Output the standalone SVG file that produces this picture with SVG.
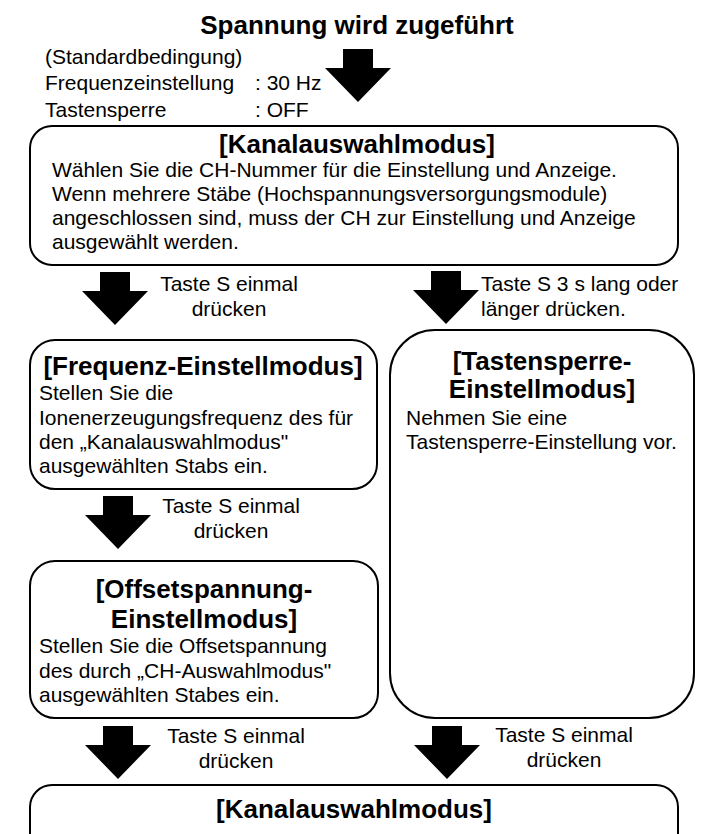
<svg xmlns="http://www.w3.org/2000/svg" xmlns:xlink="http://www.w3.org/1999/xlink" width="713" height="834" viewBox="0 0 713 834">
<style>
text{font-family:"Liberation Sans",Arial,sans-serif;fill:#000}
.b{font-size:21px}
.h{font-size:26px;font-weight:bold}
.c{text-anchor:middle}
.box{fill:#fff;stroke:#000;stroke-width:2}
.arr{fill:#000}
</style>
<defs>
<path id="arrow" d="M-15,0 H15 V19 H33 L0,53 L-33,19 H-15 Z"/>
</defs>
<rect width="713" height="834" fill="#fff"/>
<g id="title">
<text class="h c" x="357" y="34">Spannung wird zugeführt</text>
</g>
<g id="defaults">
<text class="b" x="45" y="64">(Standardbedingung)</text>
<text class="b" x="45" y="90">Frequenzeinstellung</text>
<text class="b" x="255" y="90">: 30 Hz</text>
<text class="b" x="45" y="117">Tastensperre</text>
<text class="b" x="255" y="117">: OFF</text>
</g>
<g id="connectors">
<use xlink:href="#arrow" class="arr" x="358" y="49"/>
<use xlink:href="#arrow" class="arr" x="115" y="272"/>
<use xlink:href="#arrow" class="arr" x="446" y="271"/>
<use xlink:href="#arrow" class="arr" x="118" y="496"/>
<use xlink:href="#arrow" class="arr" x="118" y="726"/>
<use xlink:href="#arrow" class="arr" x="447" y="726"/>
<text class="b c" x="229" y="291">Taste S einmal</text>
<text class="b c" x="229" y="316">drücken</text>
<text class="b" x="481" y="291">Taste S 3 s lang oder</text>
<text class="b" x="481" y="316">länger drücken.</text>
<text class="b c" x="231" y="513">Taste S einmal</text>
<text class="b c" x="231" y="538">drücken</text>
<text class="b c" x="236" y="743">Taste S einmal</text>
<text class="b c" x="236" y="768">drücken</text>
<text class="b c" x="564" y="742">Taste S einmal</text>
<text class="b c" x="564" y="767">drücken</text>
</g>
<g id="kanal1">
<rect class="box" x="30" y="126" width="648" height="139" rx="22" ry="22"/>
<text class="h c" x="357" y="153">[Kanalauswahlmodus]</text>
<text class="b" x="52" y="177">Wählen Sie die CH-Nummer für die Einstellung und Anzeige.</text>
<text class="b" x="52" y="201">Wenn mehrere Stäbe (Hochspannungsversorgungsmodule)</text>
<text class="b" x="52" y="225">angeschlossen sind, muss der CH zur Einstellung und Anzeige</text>
<text class="b" x="52" y="249">ausgewählt werden.</text>
</g>
<g id="frequenz">
<rect class="box" x="30" y="340" width="347" height="149" rx="25" ry="25"/>
<text class="h c" x="203" y="375">[Frequenz-Einstellmodus]</text>
<text class="b" x="39" y="400">Stellen Sie die</text>
<text class="b" x="39" y="425">Ionenerzeugungsfrequenz des für</text>
<text class="b" x="39" y="449">den „Kanalauswahlmodus"</text>
<text class="b" x="39" y="473">ausgewählten Stabs ein.</text>
</g>
<g id="tastensperre">
<rect class="box" x="390" y="330" width="304" height="388" rx="45" ry="45"/>
<text class="h c" x="542" y="370">[Tastensperre-</text>
<text class="h c" x="542" y="398">Einstellmodus]</text>
<text class="b" x="406" y="425">Nehmen Sie eine</text>
<text class="b" x="406" y="449">Tastensperre-Einstellung vor.</text>
</g>
<g id="offset">
<rect class="box" x="30" y="561" width="348" height="157" rx="25" ry="25"/>
<text class="h c" x="204" y="598">[Offsetspannung-</text>
<text class="h c" x="204" y="628">Einstellmodus]</text>
<text class="b" x="39" y="653">Stellen Sie die Offsetspannung</text>
<text class="b" x="39" y="678">des durch „CH-Auswahlmodus"</text>
<text class="b" x="39" y="702">ausgewählten Stabes ein.</text>
</g>
<g id="kanal2">
<rect class="box" x="30" y="785" width="648" height="80" rx="22" ry="22"/>
<text class="h c" x="354" y="818">[Kanalauswahlmodus]</text>
</g>
</svg>
